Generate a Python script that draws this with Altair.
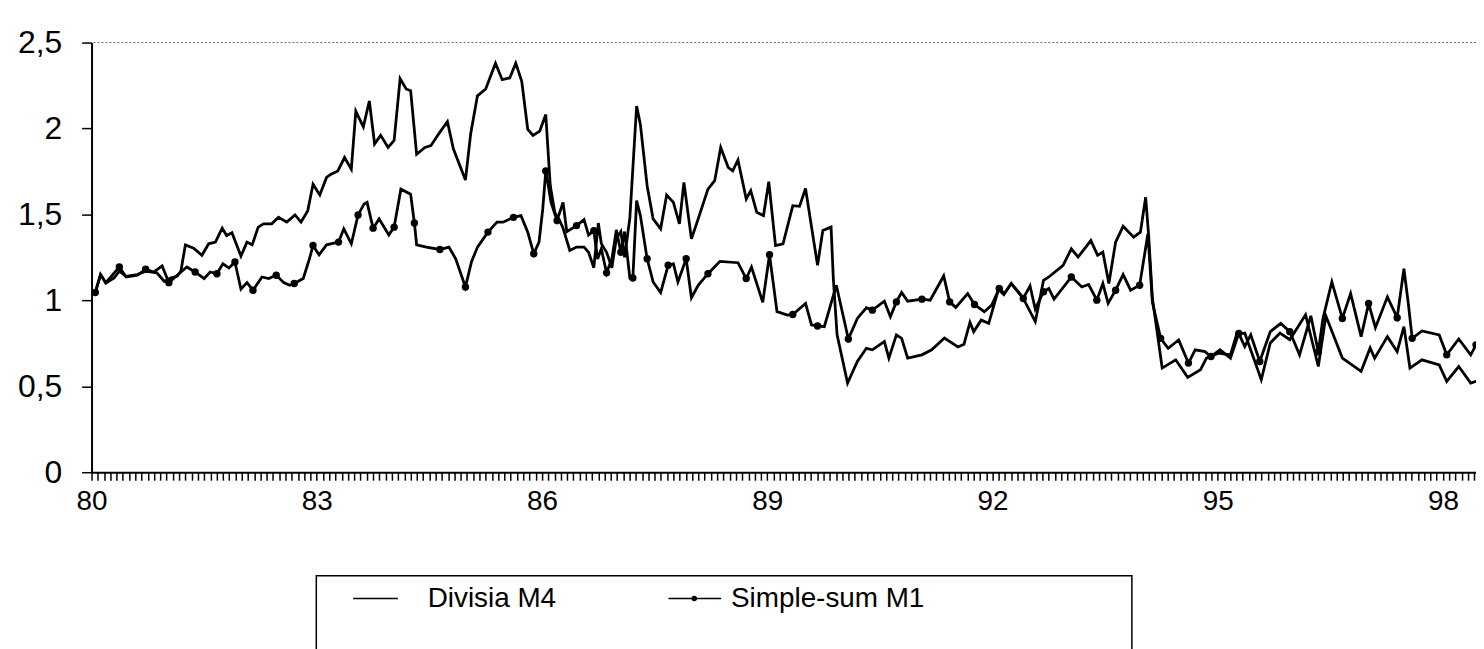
import altair as alt
import pandas as pd

# ---- Divisia M4 (decimal year, value) ----
div_t = [80.05, 80.12, 80.19, 80.30, 80.37, 80.46, 80.61, 80.72, 80.87, 80.97,
         81.05, 81.14, 81.19, 81.25, 81.36, 81.47, 81.56, 81.65, 81.74, 81.80,
         81.87, 81.99, 82.07, 82.14, 82.22, 82.29, 82.40, 82.49, 82.60, 82.71,
         82.79, 82.88, 82.95, 83.04, 83.13, 83.19, 83.28, 83.37, 83.46, 83.52,
         83.62, 83.70, 83.77, 83.85, 83.95, 84.03, 84.11, 84.19, 84.25, 84.33,
         84.44, 84.52, 84.61, 84.74, 84.82, 84.90, 84.98, 85.05, 85.14, 85.25,
         85.38, 85.47, 85.57, 85.65, 85.73, 85.81, 85.88, 85.97, 86.05, 86.11,
         86.17, 86.24, 86.28, 86.37, 86.46, 86.56, 86.62, 86.69, 86.75, 86.79,
         86.86, 86.93, 86.99, 87.05, 87.10, 87.17, 87.26, 87.31, 87.40, 87.48,
         87.58, 87.66, 87.75, 87.83, 87.89, 87.99, 88.08, 88.21, 88.30, 88.38,
         88.48, 88.54, 88.61, 88.72, 88.78, 88.86, 88.95, 89.02, 89.11, 89.21,
         89.34, 89.43, 89.51, 89.59, 89.67, 89.74, 89.85, 89.88, 89.93, 90.07,
         90.20, 90.32, 90.40, 90.56, 90.62, 90.72, 90.79, 90.87, 91.06, 91.19,
         91.36, 91.54, 91.62, 91.70, 91.75, 91.85, 91.95, 92.08, 92.15, 92.25,
         92.40, 92.57, 92.68, 92.75, 92.94, 93.05, 93.14, 93.31, 93.40, 93.47,
         93.55, 93.64, 93.74, 93.88, 93.97, 94.04, 94.08, 94.13, 94.26, 94.44,
         94.60, 94.77, 94.85, 95.01, 95.17, 95.25, 95.36, 95.58, 95.70, 95.83,
         95.96, 96.17, 96.34, 96.44, 96.66, 96.91, 97.03, 97.09, 97.26, 97.39,
         97.48, 97.56, 97.72, 97.95, 98.05, 98.21, 98.37, 98.44]
div_v = [1.046, 1.15, 1.10, 1.13, 1.17, 1.14, 1.15, 1.17, 1.16, 1.11,
         1.13, 1.14, 1.17, 1.323, 1.304, 1.262, 1.329, 1.339, 1.42, 1.377,
         1.393, 1.258, 1.339, 1.323, 1.426, 1.445, 1.445, 1.483, 1.455, 1.497,
         1.455, 1.522, 1.676, 1.613, 1.715, 1.734, 1.753, 1.831, 1.763, 2.10,
         2.01, 2.16, 1.91, 1.96, 1.89, 1.93, 2.29, 2.23, 2.22, 1.85,
         1.89, 1.90, 1.96, 2.04, 1.88, 1.79, 1.70, 1.97, 2.19, 2.23,
         2.38, 2.284, 2.294, 2.38, 2.274, 1.995, 1.96, 1.985, 2.081, 1.667,
         1.512, 1.46, 1.42, 1.29, 1.31, 1.31, 1.28, 1.19, 1.45, 1.33,
         1.28, 1.19, 1.36, 1.40, 1.25, 1.48, 2.13, 2.024, 1.667, 1.474,
         1.416, 1.613, 1.57, 1.445, 1.686, 1.358, 1.474, 1.647, 1.696, 1.889,
         1.773, 1.753, 1.817, 1.59, 1.638, 1.512, 1.493, 1.69, 1.319, 1.329,
         1.551, 1.547, 1.651, 1.426, 1.204, 1.406, 1.426, 1.127, 0.799, 0.519,
         0.644, 0.721, 0.712, 0.76, 0.664, 0.799, 0.779, 0.664, 0.683, 0.712,
         0.781, 0.729, 0.745, 0.872, 0.818, 0.885, 0.866, 1.065, 1.034, 1.098,
         1.02, 0.876, 1.117, 1.136, 1.204, 1.30, 1.252, 1.348, 1.262, 1.281,
         1.098, 1.339, 1.431, 1.368, 1.397, 1.60, 1.377, 1.011, 0.606, 0.654,
         0.552, 0.596, 0.664, 0.693, 0.683, 0.80, 0.81, 0.538, 0.752, 0.81,
         0.771, 0.916, 0.615, 0.91, 0.664, 0.587, 0.723, 0.664, 0.789, 0.702,
         0.847, 0.606, 0.654, 0.625, 0.529, 0.615, 0.519, 0.529]

# ---- Simple-sum M1 (decimal year, value) ----
m1_t = [80.05, 80.12, 80.19, 80.37, 80.46, 80.61, 80.72, 80.83, 80.94, 81.03,
        81.14, 81.27, 81.38, 81.50, 81.58, 81.67, 81.75, 81.83, 81.91, 81.99,
        82.07, 82.15, 82.27, 82.36, 82.46, 82.56, 82.64, 82.70, 82.82, 82.90,
        82.95, 83.03, 83.13, 83.29, 83.36, 83.46, 83.55, 83.63, 83.67, 83.75,
        83.83, 83.96, 84.03, 84.12, 84.25, 84.30, 84.33, 84.46, 84.64, 84.76,
        84.85, 84.98, 85.06, 85.14, 85.28, 85.40, 85.48, 85.62, 85.72, 85.81,
        85.89, 85.96, 86.01, 86.05, 86.07, 86.12, 86.20, 86.28, 86.33, 86.46,
        86.56, 86.62, 86.69, 86.74, 86.79, 86.86, 86.93, 86.99, 87.05, 87.10,
        87.17, 87.21, 87.26, 87.31, 87.40, 87.48, 87.58, 87.68, 87.75, 87.81,
        87.92, 87.99, 88.08, 88.21, 88.37, 88.61, 88.72, 88.79, 88.94, 89.03,
        89.13, 89.27, 89.34, 89.51, 89.59, 89.67, 89.76, 89.92, 90.08, 90.20,
        90.32, 90.40, 90.56, 90.64, 90.72, 90.79, 90.87, 91.06, 91.17, 91.35,
        91.43, 91.51, 91.67, 91.76, 91.89, 91.99, 92.09, 92.16, 92.25, 92.41,
        92.50, 92.57, 92.68, 92.75, 92.82, 93.05, 93.19, 93.28, 93.39, 93.47,
        93.54, 93.64, 93.74, 93.84, 93.96, 94.07, 94.13, 94.24, 94.34, 94.48,
        94.61, 94.70, 94.83, 94.91, 95.03, 95.17, 95.28, 95.36, 95.44, 95.56,
        95.70, 95.84, 95.96, 96.09, 96.24, 96.34, 96.40, 96.52, 96.66, 96.77,
        96.91, 97.01, 97.10, 97.26, 97.39, 97.48, 97.54, 97.59, 97.72, 97.95,
        98.05, 98.21, 98.37, 98.44]
m1_v = [1.046, 1.15, 1.103, 1.194, 1.136, 1.146, 1.181, 1.165, 1.20, 1.103,
        1.146, 1.194, 1.165, 1.127, 1.165, 1.155, 1.213, 1.188, 1.223, 1.065,
        1.103, 1.059, 1.136, 1.127, 1.146, 1.103, 1.088, 1.098, 1.127, 1.238,
        1.319, 1.265, 1.323, 1.339, 1.416, 1.329, 1.497, 1.561, 1.57, 1.42,
        1.474, 1.381, 1.426, 1.647, 1.618, 1.45, 1.323, 1.31, 1.296, 1.31,
        1.242, 1.078, 1.223, 1.31, 1.397, 1.455, 1.455, 1.483, 1.493, 1.397,
        1.271, 1.339, 1.532, 1.753, 1.705, 1.57, 1.464, 1.57, 1.40, 1.435,
        1.47, 1.38, 1.406, 1.24, 1.30, 1.16, 1.24, 1.41, 1.28, 1.40,
        1.13, 1.13, 1.58, 1.493, 1.242, 1.107, 1.046, 1.204, 1.213, 1.107,
        1.242, 1.015, 1.088, 1.155, 1.227, 1.219, 1.127, 1.194, 0.988, 1.265,
        0.934, 0.914, 0.918, 0.982, 0.857, 0.851, 0.847, 1.088, 0.775, 0.895,
        0.957, 0.943, 0.995, 0.905, 0.991, 1.046, 0.995, 1.007, 1.001, 1.142,
        0.991, 0.959, 1.04, 0.976, 0.934, 0.972, 1.069, 1.04, 1.098, 1.011,
        1.084, 0.95, 1.05, 1.069, 1.007, 1.136, 1.078, 1.092, 1.001, 1.098,
        0.982, 1.059, 1.15, 1.059, 1.088, 1.387, 0.988, 0.779, 0.721, 0.77,
        0.635, 0.712, 0.702, 0.673, 0.712, 0.664, 0.808, 0.731, 0.799, 0.644,
        0.818, 0.866, 0.818, 0.683, 0.91, 0.70, 0.891, 1.107, 0.895, 1.04,
        0.789, 0.982, 0.841, 1.02, 0.899, 1.184, 0.976, 0.779, 0.822, 0.799,
        0.683, 0.775, 0.683, 0.741]

y_ticks = [0, 0.5, 1, 1.5, 2, 2.5]
series_names = ["Divisia M4", "Simple-sum M1"]

FONT = "Liberation Sans"

n_div = min(len(div_t), len(div_v))
n_m1 = min(len(m1_t), len(m1_v))
div_df = pd.DataFrame({"t": div_t[:n_div], "v": div_v[:n_div]})
m1_df = pd.DataFrame({"t": m1_t[:n_m1], "v": m1_v[:n_m1]})

x_scale = alt.Scale(domain=[80, 98.44], nice=False, zero=False)
y_scale = alt.Scale(domain=[0, 2.5], nice=False, zero=True)

month_ticks = [round(80 + i / 12, 4) for i in range(0, 222)]

x_axis = alt.Axis(
    values=month_ticks,
    tickCount=len(month_ticks) + 10,
    labelExpr="abs(datum.value - round(datum.value)) < 0.01 && round(datum.value) % 3 == 2 ? format(round(datum.value), 'd') : ''",
    tickSize=8, tickWidth=1.5, tickColor="black",
    domainColor="black", domainWidth=2,
    labelFont=FONT, labelFontSize=28, labelColor="black",
    labelPadding=7, labelFlush=False, labelOverlap=False, labelBound=False,
    grid=False, title=None,
)
y_axis = alt.Axis(
    values=y_ticks,
    labelExpr="replace(toString(datum.value), '.', ',')",
    tickSize=10, tickWidth=1.5, tickColor="black",
    domainColor="black", domainWidth=2,
    labelFont=FONT, labelFontSize=32, labelColor="black",
    labelPadding=20, labelOverlap=False,
    grid=False, title=None,
)

div_line = alt.Chart(div_df).mark_line(color="black", strokeWidth=2.8, clip=True).encode(
    x=alt.X("t:Q", scale=x_scale, axis=x_axis),
    y=alt.Y("v:Q", scale=y_scale, axis=y_axis),
)
m1_line = alt.Chart(m1_df).mark_line(color="black", strokeWidth=2.8, clip=True).encode(
    x=alt.X("t:Q", scale=x_scale, axis=x_axis),
    y=alt.Y("v:Q", scale=y_scale, axis=y_axis),
)
m1_pts = alt.Chart(m1_df).transform_window(rn="row_number()").transform_filter(
    "datum.rn % 3 == 1"
).mark_circle(color="black", size=55, opacity=1, clip=True).encode(
    x=alt.X("t:Q", scale=x_scale, axis=x_axis),
    y=alt.Y("v:Q", scale=y_scale, axis=y_axis),
)
top_rule = alt.Chart(alt.Data(values=[{"y": 2.5}])).mark_rule(
    color="#666666", strokeDash=[2, 2], strokeWidth=1
).encode(y=alt.Y("y:Q", scale=y_scale, axis=y_axis))

one = alt.Data(values=[{"k": 1}])
leg_box = alt.Chart(one).mark_rect(fillOpacity=0, stroke="black", strokeWidth=1.5).encode(
    x=alt.value(226), x2=alt.value(1046), y=alt.value(536), y2=alt.value(660)
)
leg_line1 = alt.Chart(one).mark_rule(color="black", strokeWidth=1.5).encode(
    x=alt.value(263), x2=alt.value(308), y=alt.value(559)
)
leg_text1 = alt.Chart(one).mark_text(
    align="left", baseline="middle", font=FONT, fontSize=28, color="black"
).encode(x=alt.value(338), y=alt.value(560), text=alt.value(series_names[0]))
leg_line2 = alt.Chart(one).mark_rule(color="black", strokeWidth=1.5).encode(
    x=alt.value(580), x2=alt.value(633), y=alt.value(559)
)
leg_dot2 = alt.Chart(one).mark_circle(color="black", size=30, opacity=1).encode(
    x=alt.value(606), y=alt.value(559)
)
leg_text2 = alt.Chart(one).mark_text(
    align="left", baseline="middle", font=FONT, fontSize=28, color="black"
).encode(x=alt.value(643), y=alt.value(560), text=alt.value(series_names[1]))

chart = alt.layer(
    div_line, m1_line, m1_pts, top_rule,
    leg_box, leg_line1, leg_text1, leg_line2, leg_dot2, leg_text2,
).properties(
    width=1392, height=432,
    autosize=alt.AutoSizeParams(type="none"),
    padding={"left": 84, "top": 33, "right": 0, "bottom": 176},
    background="white",
).configure_view(stroke=None)

chart.save("out.html", embed_options={"renderer": "svg", "actions": False})
